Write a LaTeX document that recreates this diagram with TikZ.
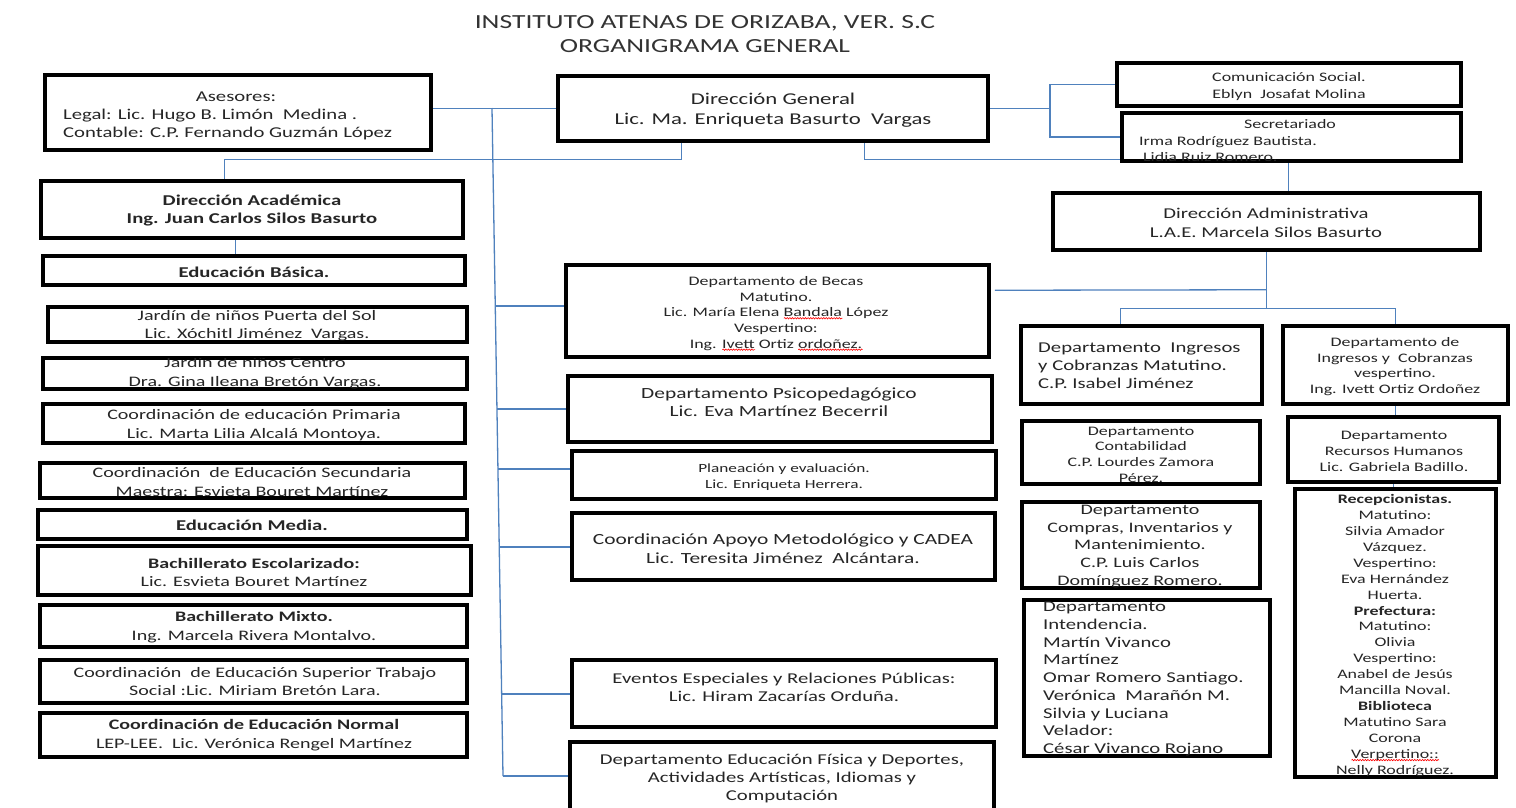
\documentclass[tikz,border=0pt]{standalone}
\usepackage{fontspec}
\setmainfont{Carlito}[FakeStretch=1.38]
\usetikzlibrary{fit,calc,decorations.pathmorphing}
\definecolor{linecol}{RGB}{79,129,189}
\pgfdeclarelayer{bg}
\pgfsetlayers{bg,main}
\newcommand\fz[2]{\fontsize{#1}{#2}\selectfont}
\newsavebox\sqbox
\newlength\sqlen
\newcommand\sq[1]{\sbox\sqbox{#1}\setlength\sqlen{\wd\sqbox}\rlap{\raisebox{-2.5pt}{\tikz\draw[red,line width=0.6pt,decorate,decoration={snake,amplitude=0.7pt,segment length=2.6pt}] (0pt,0pt)--(\sqlen,0pt);}}#1}
\newcommand\bx[3]{\node[bx,fit={#2 #3}] (#1) {};}
\begin{document}
\begin{tikzpicture}[x=1pt,y=-1pt,
  bx/.style={draw=black,line width=3.5pt,inner sep=0pt},
  tx/.style={inner sep=0pt,align=center,text=black!85,yshift=-2pt},
  ln/.style={draw=linecol,line width=1.3pt}]
\useasboundingbox (0,0) rectangle (1516,807);

% title
\node[tx,text=black!80,font=\fz{20}{24}] (title) at (705,32) {INSTITUTO ATENAS DE ORIZABA, VER. S.C\\ORGANIGRAMA GENERAL};

% boxes
\bx{ases}{(45,75)}{(431,150)}
\bx{dg}{(558,76)}{(988,141)}
\bx{com}{(1117,63)}{(1461,106)}
\bx{sec}{(1122,113)}{(1461,161)}
\bx{dadm}{(1053,193)}{(1480,250)}
\bx{da}{(41,181)}{(463,238)}
\bx{eb}{(43,256)}{(465,285)}
\bx{ja}{(48,307)}{(467,342)}
\bx{jb}{(43,358)}{(467,389)}
\bx{cp}{(43,404)}{(465,443)}
\bx{cs}{(40,463)}{(465,498)}
\bx{em}{(38,510)}{(467,539)}
\bx{be}{(38,546)}{(471,595)}
\bx{bm}{(40,605)}{(467,647)}
\bx{cu}{(40,660)}{(467,703)}
\bx{cn}{(40,713)}{(467,757)}
\bx{becas}{(566,265)}{(989,357)}
\bx{psi}{(568,376)}{(992,442)}
\bx{plan}{(572,451)}{(996,499)}
\bx{apoyo}{(572,513)}{(995,580)}
\bx{ev}{(572,660)}{(996,727)}
\bx{ef}{(570,742)}{(994,815)}
\bx{imat}{(1021,326)}{(1262,404)}
\bx{ives}{(1283,326)}{(1508,404)}
\bx{cont}{(1022,421)}{(1260,484)}
\bx{rh}{(1288,417)}{(1499,482)}
\bx{comp}{(1022,502)}{(1260,588)}
\bx{int}{(1024,600)}{(1270,756)}
\bx{rec}{(1295,489)}{(1496,777)}

% connectors
\begin{pgfonlayer}{bg}
\fill[white] (0,0) rectangle (1516,807);
\coordinate (tt) at (492,108);
\coordinate (tb) at (503,776);
\draw[ln] (ases.east |- dg.west) -- (dg.west);
\draw[ln] (tt) -- (tb);
\coordinate (b1) at (495,306);
\coordinate (b2) at (497,409);
\coordinate (b3) at (498,469);
\coordinate (b4) at (499,547);
\coordinate (b5) at (502,694);
\draw[ln] (b1) -- (b1 -| becas.west);
\draw[ln] (b2) -- (b2 -| psi.west);
\draw[ln] (b3) -- (b3 -| plan.west);
\draw[ln] (b4) -- (b4 -| apoyo.west);
\draw[ln] (b5) -- (b5 -| ev.west);
\draw[ln] (tb) -- (tb -| ef.west);
\draw[ln] ($(dg.south west)+(125,0)$) |- ($(da.north west)+(185,-20)$) -- ($(da.north west)+(185,0)$);
\draw[ln] ($(dg.south west)+(308,0)$) |- ($(dadm.north west)+(237,-32)$) -- ($(dadm.north west)+(237,0)$);
\coordinate (jc) at (1050,108);
\draw[ln] (dg.east) -- (dg.east -| jc);
\draw[ln] (com.west) -| (jc |- sec.west) -- (sec.west);
\draw[ln] ($(da.south west)+(196,0)$) -- ($(eb.north west)+(194,0)$);
\coordinate (jd) at ($(dadm.south)+(0,57)$);
\draw[ln] (dadm.south) -- (jd);
\draw[ln] ($(imat.north west)+(101,0)$) |- (jd) -| (ives.north);
\draw[ln] ($(becas.north east)+(4,27)$) -- ($(dadm.south)+(0,38)$);
\draw[ln] (ives.south) -- (ives.south |- rh.north);
\draw[ln] (rh.south) -- (rh.south |- rec.north);
\end{pgfonlayer}

% texts
\node[tx,font=\fz{15}{18}] (asesT1) at (236,95) {Asesores:};
\node[tx,align=left,anchor=west,font=\fz{15}{18}] (asesT2) at (63,122) {Legal: Lic. Hugo B. Limón\ \ Medina .\\Contable: C.P. Fernando Guzmán López};
\node[tx,font=\fz{16.5}{20}] (dgT) at (773,108) {Dirección General\\Lic. Ma. Enriqueta Basurto\ \ Vargas};
\node[tx,font=\fz{13}{17}] (comT) at (1289,84.5) {Comunicación Social.\\Eblyn\ \ Josafat Molina};
\node[tx,font=\fz{13}{16}] (secT1) at (1290,122) {Secretariado};
\node[tx,align=left,anchor=west,font=\fz{13}{16}] (secT2) at (1139,147) {Irma Rodríguez Bautista.\\\hspace*{4pt}Lidia Ruiz Romero.};
\node[tx,font=\fz{15}{19}] (dadmT) at (1266,220.5) {Dirección Administrativa\\L.A.E. Marcela Silos Basurto};
\node[tx,font=\bfseries\fz{15}{17.5}] (daT) at (252,208.5) {Dirección Académica\\Ing. Juan Carlos Silos Basurto};
\node[tx,font=\bfseries\fz{15}{18}] (ebT) at (254,270) {Educación Básica.};
\node[tx,font=\fz{14.5}{18}] (jaT) at (257,324) {Jardín de niños Puerta del Sol\\Lic. Xóchitl Jiménez\ \ Vargas.};
\begin{scope}
\clip (43,358) rectangle (467,389);
\node[tx,font=\fz{14.5}{19}] (jbT) at (255,371.5) {Jardín de niños Centro\\Dra. Gina Ileana Bretón Vargas.};
\end{scope}
\node[tx,font=\fz{14.5}{19}] (cpT) at (254,423.5) {Coordinación de educación Primaria\\Lic. Marta Lilia Alcalá Montoya.};
\node[tx,font=\fz{14.5}{19}] (csT) at (252,480.5) {Coordinación\ \ de Educación Secundaria\\Maestra: Esvieta Bouret Martínez};
\node[tx,font=\bfseries\fz{15}{18}] (emT) at (252,523) {Educación Media.};
\node[tx,font=\fz{14.5}{18}] (beT) at (254,570) {\textbf{Bachillerato Escolarizado:}\\Lic. Esvieta Bouret Martínez};
\node[tx,font=\fz{14.5}{19}] (bmT) at (254,625.5) {\textbf{Bachillerato Mixto.}\\Ing. Marcela Rivera Montalvo.};
\node[tx,font=\fz{14.5}{18}] (cuT) at (255,680) {Coordinación\ \ de Educación Superior Trabajo\\Social :Lic. Miriam Bretón Lara.};
\node[tx,font=\fz{14.5}{19}] (cnT) at (254,733.5) {\textbf{Coordinación de Educación Normal}\\LEP-LEE.\ \ Lic. Verónica Rengel Martínez};

\node[tx,font=\fz{13}{15.7}] (becasT) at (776,311.5) {Departamento de Becas\\Matutino.\\Lic. María Elena \sq{Bandala} López\\Vespertino:\\Ing. \sq{Ivett} Ortiz \sq{ordoñez.}};
\node[tx,font=\fz{15.5}{18}] (psiT) at (779,400) {Departamento Psicopedagógico\\Lic. Eva Martínez Becerril};
\node[tx,font=\fz{12.5}{16}] (planT) at (784,475) {Planeación y evaluación.\\Lic. Enriqueta Herrera.};
\node[tx,font=\fz{15.5}{19}] (apoyoT) at (783,546.5) {Coordinación Apoyo Metodológico y CADEA\\Lic. Teresita Jiménez\ \ Alcántara.};
\node[tx,font=\fz{15}{18}] (evT) at (784,685) {Eventos Especiales y Relaciones Públicas:\\Lic. Hiram Zacarías Orduña.};
\node[tx,font=\fz{15}{18}] (efT) at (782,776) {Departamento Educación Física y Deportes,\\Actividades Artísticas, Idiomas y\\Computación};

\node[tx,align=left,anchor=west,font=\fz{15}{18}] (imatT) at (1038,364) {Departamento\ \ Ingresos\\y Cobranzas Matutino.\\C.P. Isabel Jiménez};
\node[tx,font=\fz{13}{15.7}] (ivesT) at (1395,364.5) {Departamento de\\Ingresos y\ \ Cobranzas\\vespertino.\\Ing. Ivett Ortiz Ordoñez};
\node[tx,font=\fz{13}{15.7}] (contT) at (1141,452.5) {Departamento\\Contabilidad\\C.P. Lourdes Zamora\\Pérez.};
\node[tx,font=\fz{13}{16}] (rhT) at (1394,449) {Departamento\\Recursos Humanos\\Lic. Gabriela Badillo.};
\node[tx,font=\fz{14.5}{17.8}] (compT) at (1140,544.5) {Departamento\\Compras, Inventarios y\\Mantenimiento.\\C.P. Luis Carlos\\Domínguez Romero.};
\begin{scope}
\clip (1024,596) rectangle (1270,756);
\node[tx,align=left,anchor=west,font=\fz{15}{17.75}] (intT) at (1043,677) {Departamento\\Intendencia.\\Martín Vivanco\\Martínez\\Omar Romero Santiago.\\Verónica\ \ Marañón M.\\Silvia y Luciana\\Velador:\\César Vivanco Rojano};
\end{scope}
\node[tx,font=\fz{13}{15.95}] (recT) at (1395,633.5) {\textbf{Recepcionistas.}\\Matutino:\\Silvia Amador\\Vázquez.\\Vespertino:\\Eva Hernández\\Huerta.\\\textbf{Prefectura:}\\Matutino:\\Olivia\\Vespertino:\\Anabel de Jesús\\Mancilla Noval.\\\textbf{Biblioteca}\\Matutino Sara\\Corona\\\sq{Verpertino::}\\Nelly Rodríguez.};
\end{tikzpicture}
\end{document}
